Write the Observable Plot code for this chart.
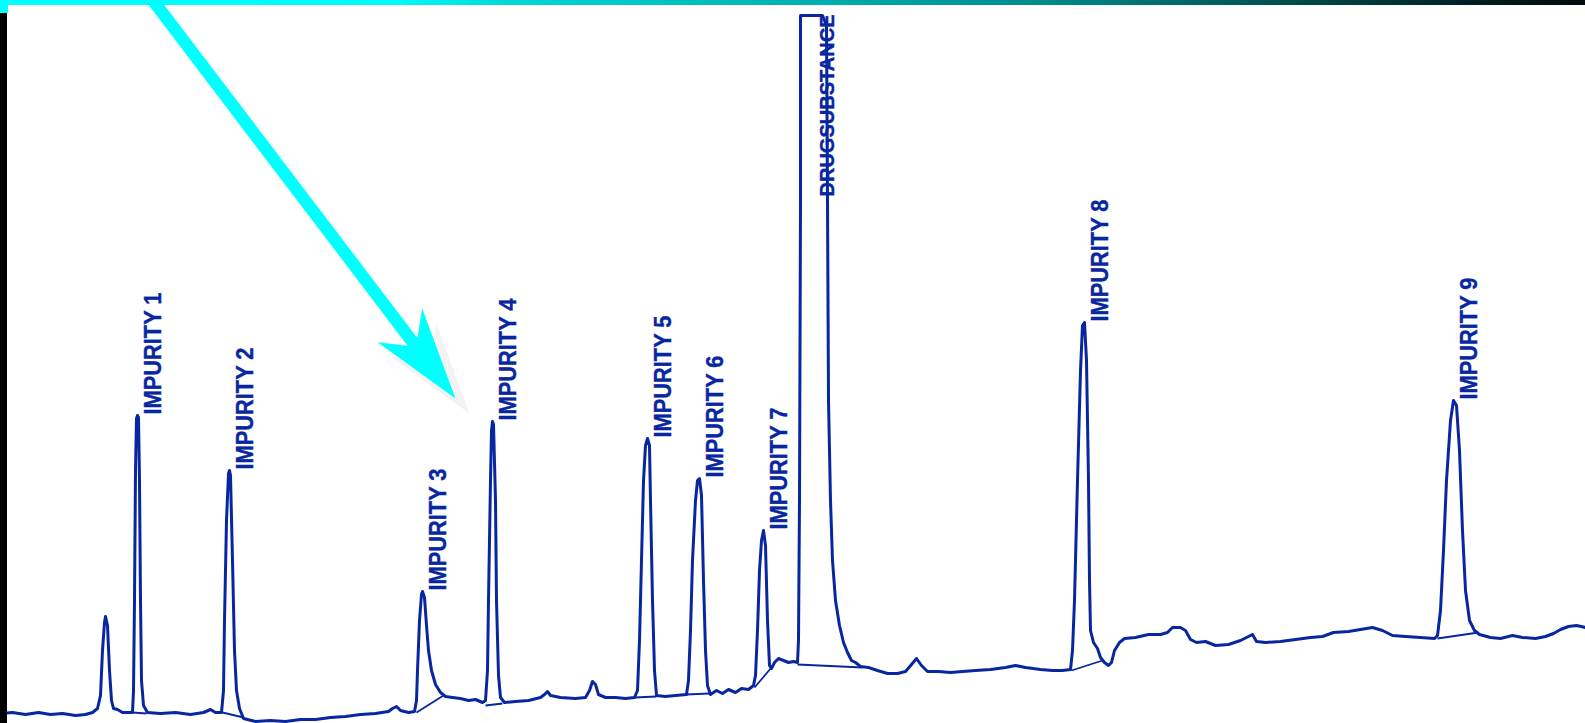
<!DOCTYPE html>
<html><head><meta charset="utf-8">
<script src="https://cdn.jsdelivr.net/npm/d3@7"></script>
<script src="https://cdn.jsdelivr.net/npm/@observablehq/plot@0.6"></script>
<style>
html,body{margin:0;padding:0;background:#fff;}
#wrap{position:relative;width:1585px;height:723px;overflow:hidden;background:#fff;}
#wrap svg{position:absolute;left:0;top:0;}
#topbar{position:absolute;left:0;top:0;width:1585px;height:5px;background:linear-gradient(to right,#00ffff 0%,#00fafa 25%,#00d8d8 32%,#00b2b2 50%,#008a8a 66%,#005252 80%,#002222 92%,#000a0a 100%);}
#corner{position:absolute;left:0;top:0;width:8px;height:13px;background:#00ffff;}
#strip{position:absolute;left:0;top:13px;width:7px;height:710px;background:#000;}
</style></head><body><div id="wrap"></div>
<script>
// Chromatogram trace: retention time (s) and detector signal (counts)
const time = [0,12,25,38,50,62,75,85,92,97,100,102,104,105,107,109,111,113,117,122,128,132,133,134,135,136,137,138,139,140,141,143,147,160,175,190,203,210,215,221,223,224,226,228,229,230,232,234,236,239,243,255,270,285,300,315,330,345,360,375,388,392,396,400,408,414,416,417,419,421,422,424,426,428,431,435,440,445,452,460,468,475,482,485,487,488,490,491,492,493,495,496,498,500,504,515,528,540,544,547,550,560,575,585,589,592,595,598,605,615,625,634,637,639,641,643,645,647,649,650,652,654,656,665,675,686,688,690,692,695,697,699,701,703,705,707,710,716,722,728,735,741,748,753,755,757,759,761,763,765,767,769,771,774,778,783,788,793,797,798,799,800,800,812,822,826,827,828,830,832,835,839,843,847,851,855,860,868,877,887,897,905,911,916,921,927,938,950,962,975,990,1005,1015,1025,1040,1052,1062,1070,1072,1074,1077,1080,1082,1084,1086,1088,1089,1090,1093,1097,1100,1104,1108,1111,1114,1119,1124,1135,1148,1160,1167,1172,1180,1185,1190,1196,1205,1215,1228,1240,1248,1252,1256,1265,1280,1295,1310,1322,1333,1348,1360,1372,1382,1392,1405,1420,1434,1437,1440,1443,1446,1450,1453,1456,1459,1462,1465,1469,1474,1479,1490,1500,1512,1522,1535,1545,1553,1560,1568,1576,1585];
const signal = [10,11,9,11,9,10,8,9,11,15,28,73,101,107,98,53,23,15,14,11,11,11,33,123,253,305,308,306,243,123,43,18,11,10,11,9,11,14,11,11,33,103,203,250,253,248,163,73,33,15,5,2,3,2,4,4,6,7,9,10,12,15,17,13,11,12,23,53,103,129,132,126,98,73,53,39,31,27,26,25,23,24,21,23,53,123,243,293,302,299,223,123,48,26,21,22,23,26,29,32,28,26,25,26,33,42,39,29,26,26,25,26,33,83,163,243,278,285,278,223,123,53,28,27,28,29,43,93,163,223,243,245,228,143,73,38,29,33,30,34,31,35,34,38,48,93,153,183,193,178,103,58,55,61,65,63,61,62,61,83,223,523,708,708,708,698,523,323,223,163,123,98,81,71,63,61,57,56,53,50,50,52,59,65,58,52,52,51,52,53,54,56,58,56,54,53,53,54,73,123,243,353,398,401,363,243,143,93,81,75,66,61,58,61,73,81,85,86,89,89,91,96,96,93,84,81,82,78,79,83,87,89,82,81,82,84,86,87,91,92,94,96,93,88,87,86,85,88,113,173,243,303,323,318,273,193,133,103,93,89,86,85,88,86,85,87,90,94,97,98,96];

// Named peaks (apex time, apex signal; drug substance is off-scale / clipped)
const peakNames = ["IMPURITY 1","IMPURITY 2","IMPURITY 3","IMPURITY 4","IMPURITY 5","IMPURITY 6","IMPURITY 7","DRUGSUBSTANCE","IMPURITY 8","IMPURITY 9"];
const peakTime = [137,229,422,492,647,699,763,812,1084,1453];
const peakSignal = [308,253,132,302,285,245,193,708,401,323];

// Integration baselines drawn under each peak
const baseStartTime = [132,222,416,485,634,686,754,797,1071,1437];
const baseStartSignal = [11,11,11,18,26,29,36,59,53,85];
const baseEndTime = [146,243,443,502,656,709,771,862,1102,1478];
const baseEndSignal = [10,6,28,20,27,30,56,56,63,91];

// Annotation arrow (tail and tip in data units)
const arrowTail = {t: 148.7, s: 728};
const arrowTip = {t: 455, s: 325};

const W = 1585, H = 723;
const xDomain = [0, 1585], yDomain = [0, 723];
const lineColor = "#0726a0";

const trace = time.map((t, i) => ({t, s: signal[i]}));
const peaks = peakNames.map((name, i) => ({name, t: peakTime[i], s: peakSignal[i]}));
const baselines = baseStartTime.map((t1, i) => ({t1, s1: baseStartSignal[i], t2: baseEndTime[i], s2: baseEndSignal[i]}));

const xs = d3.scaleLinear(xDomain, [0, W]);
const ys = d3.scaleLinear(yDomain, [H, 0]);
function arrowPolygon(tail, tip, half, headLen, notchLen, headHalf, ox = 0, oy = 0) {
  const x0 = xs(tail.t), y0 = ys(tail.s), x1 = xs(tip.t), y1 = ys(tip.s);
  const L = Math.hypot(x1 - x0, y1 - y0), ux = (x1 - x0) / L, uy = (y1 - y0) / L, nx = -uy, ny = ux;
  const pts = [
    [x0 + nx * half, y0 + ny * half],
    [x1 - ux * notchLen + nx * half, y1 - uy * notchLen + ny * half],
    [x1 - ux * headLen + nx * headHalf, y1 - uy * headLen + ny * headHalf],
    [x1, y1],
    [x1 - ux * headLen - nx * headHalf, y1 - uy * headLen - ny * headHalf],
    [x1 - ux * notchLen - nx * half, y1 - uy * notchLen - ny * half],
    [x0 - nx * half, y0 - ny * half]
  ];
  return pts.map(([px, py]) => ({t: xs.invert(px + ox), s: ys.invert(py + oy)}));
}
const arrowPts = arrowPolygon(arrowTail, arrowTip, 6.2, 92, 71, 28);
const shadowPts = arrowPolygon(arrowTail, arrowTip, 6.2, 92, 71, 28, 14, 15);

const labelFont = "Liberation Sans, Arial, Helvetica, sans-serif";
const labelStyle = {rotate: -90, textAnchor: "start", lineAnchor: "bottom", fill: lineColor, stroke: lineColor, strokeWidth: 0.4, fontWeight: "bold", fontFamily: labelFont};
const chart = Plot.plot({
  width: W, height: H, margin: 0,
  style: {background: "transparent", overflow: "visible"},
  x: {domain: xDomain, axis: null},
  y: {domain: yDomain, axis: null},
  marks: [
    Plot.link(baselines, {x1: "t1", y1: "s1", x2: "t2", y2: "s2", stroke: lineColor, strokeWidth: 1.8}),
    Plot.line(trace, {x: "t", y: "s", stroke: lineColor, strokeWidth: 3, strokeLinejoin: "round", strokeLinecap: "round"}),
    Plot.text(peaks.filter(d => d.name !== "DRUGSUBSTANCE"), {x: "t", y: "s", text: "name", dx: 23, dy: -1, fontSize: 24, ...labelStyle}),
    Plot.text(peaks.filter(d => d.name === "DRUGSUBSTANCE"), {x: "t", y: "s", text: "name", dx: 21, dy: 181, fontSize: 20, ...labelStyle}),
    Plot.line(shadowPts, {x: "t", y: "s", fill: "#f3f3f3", stroke: "none", curve: "linear-closed"}),
    Plot.line(arrowPts, {x: "t", y: "s", fill: "#00ffff", stroke: "none", curve: "linear-closed"})
  ]
});
d3.select(chart).selectAll("text").each(function() {
  const txt = this.textContent;
  this.setAttribute("textLength", txt === "DRUGSUBSTANCE" ? 182 : 122);
  this.setAttribute("lengthAdjust", "spacingAndGlyphs");
});
const wrap = document.getElementById("wrap");
wrap.appendChild(chart);
for (const id of ["topbar", "corner", "strip"]) {
  const d = document.createElement("div"); d.id = id; wrap.appendChild(d);
}
</script></body></html>
